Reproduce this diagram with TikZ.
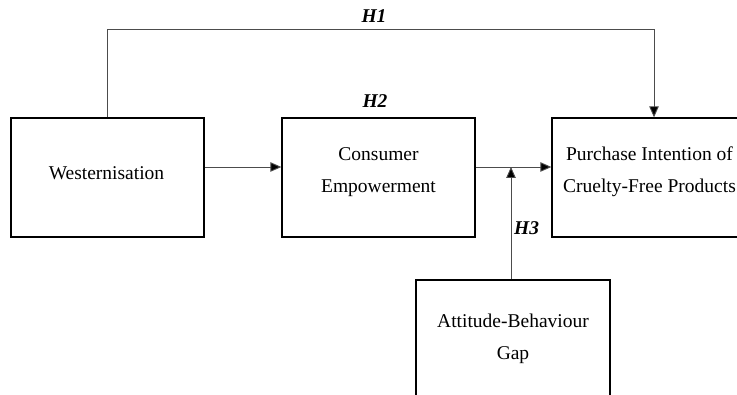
\documentclass[tikz,border=0pt]{standalone}
\usepackage{fontspec}
\setmainfont{Liberation Serif}
\usetikzlibrary{arrows.meta}
\begin{document}
\begin{tikzpicture}[x=1pt,y=-1pt,
  box/.style={draw=black, line width=1.3pt, rectangle, inner sep=0pt,
              minimum width=193pt, minimum height=119pt},
  txt/.style={font=\fontsize{19.5}{32}\selectfont, align=center, inner sep=0pt, anchor=base},
  hlab/.style={font=\fontsize{19.5}{22}\selectfont\bfseries\itshape, inner sep=0pt, anchor=base},
  conn/.style={draw=black!70, line width=0.9pt},
  arr/.style={conn, -{Triangle[length=11pt,width=9.5pt,fill=black]}}
]
\useasboundingbox (0,0) rectangle (737,395);
\clip (0,0) rectangle (737,395);
% boxes
\node[box] (w) at (107.5,177.5) {};
\node[box] (c) at (378.5,177.5) {};
\node[box, minimum width=200pt] (p) at (652,177.5) {};
\node[box, minimum width=194pt, minimum height=125pt] (g) at (513,342.5) {};
% texts
\node[txt] (wt) at (106.5,180) {Westernisation};
\node[txt] (ct) at (378.5,193) {Consumer\\Empowerment};
\node[txt] (pt) at (649.5,193) {Purchase Intention of\\Cruelty-Free Products};
\node[txt] (gt) at (513,360) {Attitude-Behaviour\\Gap};
% hypothesis labels
\node[hlab] (h1) at (374,23) {H1};
\node[hlab] (h2) at (375,108) {H2};
\node[hlab, anchor=base west] (h3) at (514,235) {H3};
% connectors
\coordinate (j) at (511,167);
\draw[arr] ([yshift=10.5pt]w.east) -- ([yshift=10.5pt]c.west);
\draw[arr] ([yshift=10.5pt]c.east) -- ([yshift=10.5pt]p.west);
\draw[arr] ([xshift=-0.5pt]w.north) -- ++(0,-88) -| ([xshift=2pt]p.north);
\draw[arr] (g.north -| j) -- (j);
\end{tikzpicture}
\end{document}
